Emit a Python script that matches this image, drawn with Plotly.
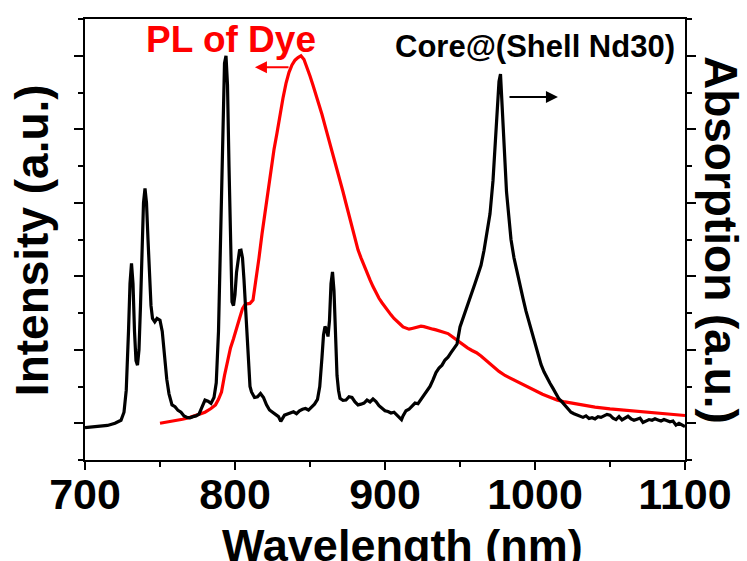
import plotly.graph_objects as go

# Absorption spectrum of Core@(Shell Nd30), right axis (normalised)
abs_wl = [700, 705, 710, 715, 720, 724, 726, 727.5, 729, 730, 731, 732, 733, 734, 735, 736, 737, 738, 739,
          740, 741, 742, 743, 744, 745, 746.5, 748, 750, 751.5, 753, 754.5, 756, 758, 760, 762, 764, 766,
          768, 770, 772, 774, 776, 778, 780, 782, 784, 786, 787.5, 789, 790, 791, 792, 793, 794, 795, 796,
          797, 798, 799, 800, 801, 802, 803, 804, 805, 806, 807, 808, 809, 810, 811, 813, 815, 817, 819,
          821, 823, 825, 827, 829, 830.5, 833, 835, 837, 839, 841, 843, 845, 847, 849, 851, 853, 855, 856.5,
          858, 859, 860, 861, 862, 863, 864, 865, 866, 867, 868, 869, 870, 872, 874, 876, 878, 880, 882,
          884, 886, 888, 890, 892, 894, 896, 898, 900, 902, 904, 906, 908, 910, 911, 912, 914, 916, 918,
          920, 922, 924, 926, 928, 930, 932, 934, 936, 938, 940, 942, 944, 946, 948, 950, 952, 954, 956,
          958, 960, 962, 964, 966, 968, 970, 972, 973, 974, 975, 976, 977, 978, 979, 980, 981, 982, 984,
          986, 988, 990, 992, 994, 996, 998, 1000, 1002, 1004, 1006, 1008, 1010, 1012, 1014, 1016, 1018,
          1020, 1022, 1024, 1026, 1028, 1030, 1032, 1034, 1036, 1038, 1040, 1042, 1044, 1046, 1048, 1050,
          1052, 1054, 1056, 1058, 1060, 1062, 1064, 1066, 1068, 1070, 1072, 1074, 1076, 1078, 1080, 1082,
          1084, 1086, 1088, 1090, 1092, 1094, 1096, 1098, 1100]
abs_val = [-0.012, -0.010, -0.008, -0.006, 0.000, 0.008, 0.030, 0.090, 0.250, 0.380, 0.435, 0.380, 0.250,
           0.170, 0.158, 0.200, 0.320, 0.480, 0.600, 0.639, 0.600, 0.500, 0.400, 0.320, 0.285, 0.276, 0.285,
           0.280, 0.250, 0.180, 0.120, 0.080, 0.050, 0.045, 0.035, 0.030, 0.020, 0.016, 0.015, 0.018, 0.020,
           0.025, 0.045, 0.063, 0.060, 0.054, 0.070, 0.110, 0.250, 0.450, 0.680, 0.880, 0.980, 1.000, 0.920,
           0.700, 0.450, 0.330, 0.320, 0.350, 0.410, 0.450, 0.470, 0.471, 0.450, 0.390, 0.310, 0.220, 0.140,
           0.100, 0.085, 0.070, 0.072, 0.081, 0.070, 0.050, 0.036, 0.030, 0.025, 0.018, 0.005, 0.022, 0.025,
           0.028, 0.031, 0.026, 0.034, 0.038, 0.040, 0.036, 0.045, 0.052, 0.065, 0.100, 0.180, 0.240, 0.263,
           0.255, 0.236, 0.280, 0.380, 0.412, 0.360, 0.220, 0.130, 0.090, 0.068, 0.062, 0.063, 0.072, 0.070,
           0.058, 0.050, 0.052, 0.055, 0.063, 0.058, 0.066, 0.059, 0.048, 0.040, 0.034, 0.032, 0.028, 0.030,
           0.022, 0.013, 0.010, 0.020, 0.034, 0.038, 0.046, 0.055, 0.053, 0.065, 0.078, 0.088, 0.100, 0.118,
           0.138, 0.150, 0.158, 0.172, 0.180, 0.192, 0.205, 0.215, 0.262, 0.285, 0.305, 0.330, 0.355, 0.380,
           0.405, 0.430, 0.470, 0.515, 0.570, 0.660, 0.730, 0.810, 0.870, 0.930, 0.950, 0.880, 0.807, 0.710,
           0.630, 0.580, 0.500, 0.450, 0.410, 0.372, 0.340, 0.305, 0.275, 0.245, 0.215, 0.185, 0.160, 0.140,
           0.122, 0.109, 0.095, 0.078, 0.066, 0.058, 0.048, 0.038, 0.030, 0.026, 0.022, 0.018, 0.016, 0.020,
           0.013, 0.015, 0.012, 0.018, 0.016, 0.020, 0.024, 0.022, 0.014, 0.010, 0.018, 0.009, 0.014, 0.019,
           0.012, 0.008, 0.011, 0.014, 0.002, 0.006, 0.010, 0.008, 0.012, 0.009, 0.006, 0.010, 0.008, 0.004,
           0.006, -0.005, 0.000, -0.004, -0.009]

# Photoluminescence of the dye, left axis (normalised)
pl_wl = [750, 755, 760, 765, 770, 775, 780, 784, 787, 789, 791, 793, 795, 797, 799, 801, 803, 805, 806.5,
         808, 810, 812, 814, 816, 818, 820, 822, 824, 826, 828, 830, 832, 834, 836, 838, 840, 842, 844, 846,
         848, 850, 852, 854, 856, 858, 860, 862, 864, 866, 868, 870, 872, 874, 876, 878, 880, 882, 884, 886,
         888, 890, 892, 894, 896, 898, 900, 902, 904, 906, 908, 910, 912, 914, 916, 918, 920, 922, 924, 926,
         928, 930, 932, 934, 936, 938, 940, 942, 944, 946, 948, 950, 952, 955, 958, 961, 964, 967, 970, 973,
         976, 980, 985, 990, 995, 1000, 1005, 1010, 1015, 1020, 1030, 1040, 1050, 1060, 1070, 1080, 1090, 1100]
pl_val = [0.000, 0.003, 0.006, 0.011, 0.016, 0.022, 0.030, 0.040, 0.050, 0.065, 0.085, 0.130, 0.170, 0.205,
          0.230, 0.255, 0.285, 0.312, 0.322, 0.325, 0.326, 0.335, 0.390, 0.450, 0.515, 0.575, 0.635, 0.695,
          0.745, 0.790, 0.840, 0.885, 0.925, 0.955, 0.975, 0.988, 0.995, 1.000, 0.990, 0.970, 0.945, 0.920,
          0.895, 0.868, 0.840, 0.810, 0.780, 0.755, 0.727, 0.695, 0.663, 0.630, 0.598, 0.565, 0.532, 0.500,
          0.472, 0.450, 0.428, 0.410, 0.390, 0.372, 0.355, 0.340, 0.328, 0.316, 0.305, 0.295, 0.285, 0.276,
          0.270, 0.262, 0.258, 0.256, 0.258, 0.260, 0.262, 0.264, 0.263, 0.260, 0.258, 0.256, 0.254, 0.252,
          0.250, 0.248, 0.244, 0.238, 0.232, 0.224, 0.218, 0.213, 0.205, 0.198, 0.192, 0.183, 0.172, 0.162,
          0.151, 0.141, 0.130, 0.120, 0.109, 0.098, 0.089, 0.079, 0.071, 0.063, 0.058, 0.050, 0.044, 0.039,
          0.035, 0.031, 0.027, 0.024, 0.021]

FONT = "Liberation Sans, Arial, sans-serif"

fig = go.Figure()
fig.add_trace(go.Scatter(x=abs_wl, y=abs_val, mode="lines", yaxis="y2",
                         line=dict(color="black", width=3.2), cliponaxis=True))
fig.add_trace(go.Scatter(x=pl_wl, y=pl_val, mode="lines", yaxis="y",
                         line=dict(color="red", width=3.2), cliponaxis=True))

yax = dict(range=[-0.1, 1.1], tick0=0, dtick=0.2, ticks="outside", ticklen=9, tickwidth=2,
           tickcolor="black", showticklabels=False, showline=True, linewidth=2, linecolor="black",
           showgrid=False, zeroline=False,
           minor=dict(dtick=0.1, tick0=0, ticks="outside", ticklen=5, tickwidth=2, tickcolor="black",
                      showgrid=False))

fig.update_layout(
    width=747, height=561,
    margin=dict(l=85, r=62, t=19, b=101),
    paper_bgcolor="white", plot_bgcolor="white",
    showlegend=False,
    xaxis=dict(range=[700, 1100], tick0=700, dtick=100, ticks="outside", ticklen=8, tickwidth=2,
               tickcolor="black", showline=True, linewidth=2, linecolor="black", mirror=True,
               showgrid=False, zeroline=False, ticklabelstandoff=-13,
               tickfont=dict(family=FONT, size=43, color="black", weight="bold"),
               minor=dict(dtick=50, tick0=700, ticks="outside", ticklen=5, tickwidth=2,
                          tickcolor="black", showgrid=False)),
    yaxis=yax,
    yaxis2=dict(yax, overlaying="y", side="right"),
    annotations=[
        dict(text="Wavelength (nm)", xref="paper", yref="paper", x=0.529, y=-0.193,
             xanchor="center", yanchor="middle", showarrow=False,
             font=dict(family=FONT, size=45, color="black", weight="bold")),
        dict(text="Intensity (a.u.)", xref="paper", yref="paper", x=-0.088, y=0.499,
             xanchor="center", yanchor="middle", showarrow=False, textangle=-90,
             font=dict(family=FONT, size=46, color="black", weight="bold")),
        dict(text="Absorption (a.u.)", xref="paper", yref="paper", x=1.06, y=0.499,
             xanchor="center", yanchor="middle", showarrow=False, textangle=90,
             font=dict(family=FONT, size=46, color="black", weight="bold")),
        dict(text="PL of Dye", xref="x", yref="y", x=797.3, y=1.045,
             xanchor="center", yanchor="middle", showarrow=False,
             font=dict(family=FONT, size=37, color="red", weight="bold")),
        dict(text="Core@(Shell Nd30)", xref="x", yref="y", x=1000, y=1.025,
             xanchor="center", yanchor="middle", showarrow=False,
             font=dict(family=FONT, size=31, color="black", weight="bold")),
        # arrows pointing to the axis each curve belongs to
        dict(x=813.3, y=0.969, ax=836.7, ay=0.969, xref="x", yref="y", axref="x", ayref="y",
             text="", showarrow=True, arrowhead=2, arrowsize=1.2, arrowwidth=2, arrowcolor="red"),
        dict(x=1015.3, y=0.888, ax=982, ay=0.888, xref="x", yref="y", axref="x", ayref="y",
             text="", showarrow=True, arrowhead=2, arrowsize=1.2, arrowwidth=2, arrowcolor="black"),
    ],
)

fig.write_html("out.html")
